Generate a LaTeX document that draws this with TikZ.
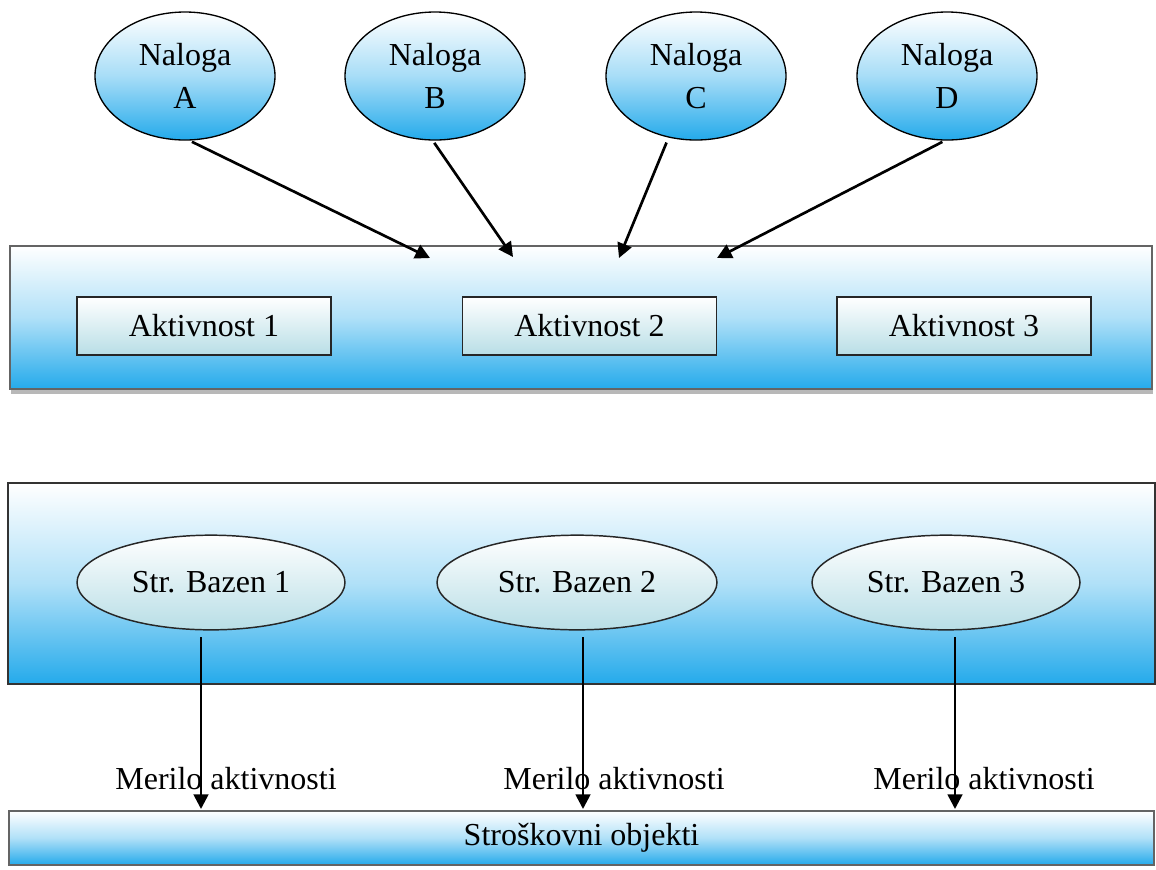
\documentclass[tikz,border=0pt]{standalone}
\usepackage{fontspec}
\setmainfont{Liberation Serif}
\usetikzlibrary{shapes.geometric,arrows.meta,shadows}

\definecolor{bandblue}{RGB}{36,170,235}
\definecolor{boxblue}{RGB}{184,222,230}
\definecolor{edgegray}{RGB}{100,100,100}

\tikzset{
	txt/.style={font=\fontsize{24}{32}\selectfont, text=black},
	band/.style={rectangle, draw=edgegray, line width=1.8pt, shade, top color=white, bottom color=bandblue, middle color=bandblue!36, inner sep=0pt},
	task/.style={ellipse, draw=black, line width=1pt, shade, top color=white, bottom color=bandblue, middle color=bandblue!40, minimum width=135pt, minimum height=96pt, align=center, inner sep=0pt, txt},
	actbox/.style={rectangle, draw=black!85, line width=1.3pt, shade, top color=white, bottom color=boxblue, minimum width=190.5pt, minimum height=43.5pt, inner sep=0pt, txt},
	pool/.style={ellipse, draw=black!85, line width=1.1pt, shade, top color=white, bottom color=boxblue, minimum width=201pt, minimum height=71pt, inner sep=0pt, txt},
	arr/.style={line width=2pt, -{Triangle[length=11pt,width=11pt]}},
}

\begin{document}
\begin{tikzpicture}[x=0.75pt,y=0.75pt,yscale=-1,xscale=1]
	\useasboundingbox (0,0) rectangle (1156,869);

	% activities band
	\node [band, minimum width=856.5pt, minimum height=107.25pt, drop shadow={shadow xshift=1pt, shadow yshift=-3.5pt, fill=black!28, opacity=1}] (actband) at (581,317.5) {};
	\node [actbox] (akt1) at (204,326) {Aktivnost 1};
	\node [actbox] (akt2) at (589.5,326) {Aktivnost 2};
	\node [actbox] (akt3) at (964,326) {Aktivnost 3};

	% tasks
	\node [task] (nalA) at (185,76) {Naloga\\A};
	\node [task] (nalB) at (435,76) {Naloga\\B};
	\node [task] (nalC) at (696,76) {Naloga\\C};
	\node [task] (nalD) at (947,76) {Naloga\\D};

	\coordinate (tA) at (430,258);
	\coordinate (tB) at (513,257);
	\coordinate (tC) at (619,258);
	\coordinate (tD) at (717,258);
	\draw [arr, shorten <=2pt] (nalA.274) -- (tA);
	\draw [arr, shorten <=2pt] (nalB.268) -- (tB);
	\draw [arr, shorten <=4pt] (nalC.246) -- (tC);
	\draw [arr, shorten <=2pt] (nalD.268) -- (tD);

	% cost pools band
	\node [band, draw=black!80, line width=1.2pt, minimum width=860.25pt, minimum height=150.75pt] (poolband) at (581.5,583.5) {};
	\node [pool] (baz1) at (211,582.5) {Str. Bazen 1};
	\node [pool, minimum width=210pt] (baz2) at (577,582.5) {Str. Bazen 2};
	\node [pool] (baz3) at (946,582.5) {Str. Bazen 3};

	% cost objects
	\node [band, line width=2.2pt, minimum width=858.75pt, minimum height=40.5pt, txt] (objekti) at (581.5,838) {Stroškovni objekti};

	\node [txt] (mer1) at (226,779) {Merilo aktivnosti};
	\node [txt] (mer2) at (614,779) {Merilo aktivnosti};
	\node [txt] (mer3) at (984,779) {Merilo aktivnosti};

	\coordinate (m1) at (201,809);
	\coordinate (m2) at (583,809);
	\coordinate (m3) at (955,809);
	\draw [arr, shorten <=5pt] (baz1.south -| m1) -- (m1);
	\draw [arr, shorten <=5pt] (baz2.south -| m2) -- (m2);
	\draw [arr, shorten <=5pt] (baz3.south -| m3) -- (m3);
\end{tikzpicture}
\end{document}
